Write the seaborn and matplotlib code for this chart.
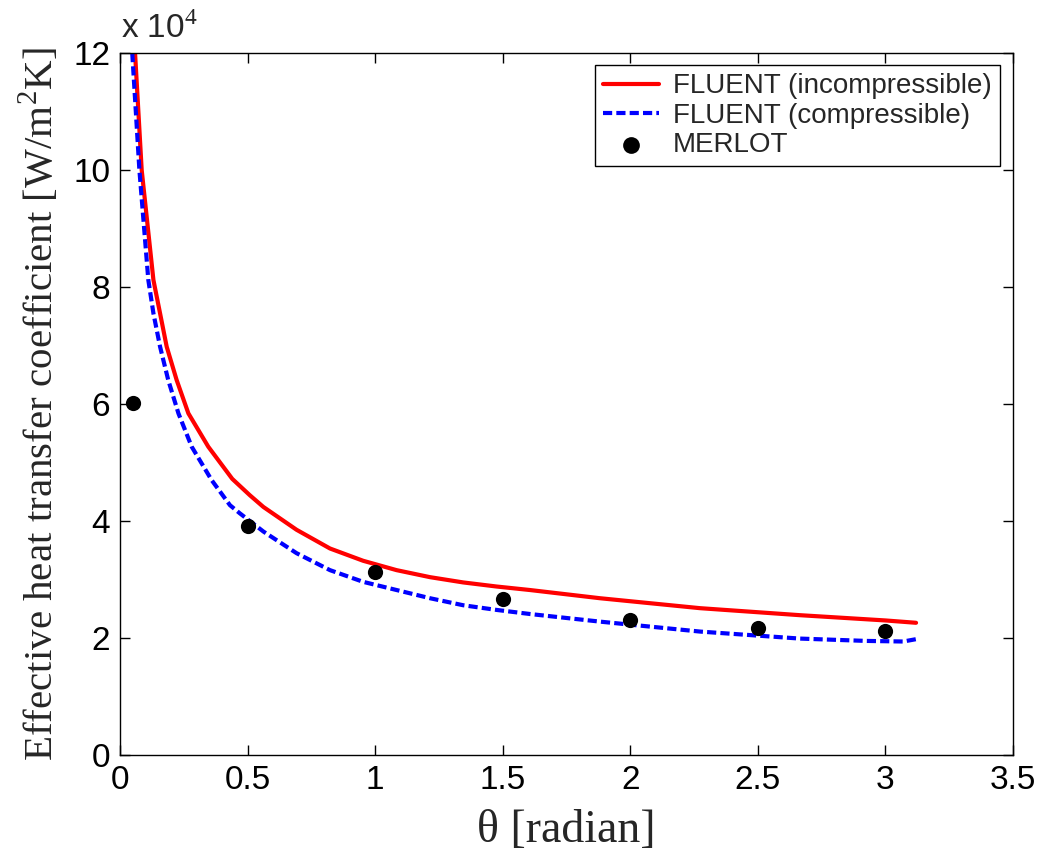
import matplotlib
matplotlib.use("Agg")
import matplotlib.pyplot as plt
import seaborn as sns
import pandas as pd

# Data (y in units of 1e4 W/m^2K)
inc_theta = [0.059, 0.085, 0.131, 0.157, 0.183, 0.222, 0.268, 0.346, 0.44, 0.509,
             0.562, 0.692, 0.823, 0.953, 1.084, 1.215, 1.345, 1.476, 1.607, 1.881,
             2.273, 2.665, 3.0, 3.12]
inc_h = [12.0, 10.0, 8.12, 7.55, 6.98, 6.41, 5.84, 5.27, 4.72, 4.44,
         4.24, 3.85, 3.53, 3.32, 3.16, 3.04, 2.95, 2.88, 2.82, 2.68,
         2.51, 2.39, 2.3, 2.26]

comp_theta = [0.048, 0.076, 0.111, 0.131, 0.157, 0.189, 0.229, 0.281, 0.359, 0.431,
              0.47, 0.562, 0.692, 0.823, 0.953, 1.084, 1.215, 1.345, 1.476, 1.607,
              1.881, 2.273, 2.665, 2.926, 3.07, 3.12]
comp_h = [12.0, 10.0, 8.12, 7.55, 6.98, 6.41, 5.84, 5.27, 4.70, 4.27,
          4.13, 3.82, 3.45, 3.16, 2.96, 2.82, 2.68, 2.56, 2.48, 2.41,
          2.28, 2.11, 1.99, 1.95, 1.94, 1.98]

merlot_theta = [0.05, 0.5, 1.0, 1.5, 2.0, 2.5, 3.0]
merlot_h = [6.02, 3.91, 3.12, 2.66, 2.31, 2.17, 2.12]

x_ticks = [0, 0.5, 1, 1.5, 2, 2.5, 3, 3.5]
x_tick_labels = ["0", "0.5", "1", "1.5", "2", "2.5", "3", "3.5"]
y_ticks = [0, 2, 4, 6, 8, 10, 12]

sns.set_theme(style="white")
plt.rcParams['font.family'] = ['Liberation Sans', 'DejaVu Sans']
plt.rcParams['mathtext.fontset'] = 'custom'
plt.rcParams['mathtext.rm'] = 'Liberation Serif'

fig = plt.figure(figsize=(10.4, 8.56), dpi=100)
ax = fig.add_axes([120/1040, 1 - 755/856, (1013 - 120)/1040, (755 - 53)/856])

df_inc = pd.DataFrame({"theta": inc_theta, "h": inc_h})
df_comp = pd.DataFrame({"theta": comp_theta, "h": comp_h})
df_mer = pd.DataFrame({"theta": merlot_theta, "h": merlot_h})

sns.lineplot(data=df_inc, x="theta", y="h", ax=ax, color="#ff0000", lw=3,
             sort=False, label="FLUENT (incompressible)")
sns.lineplot(data=df_comp, x="theta", y="h", ax=ax, color="#0000ff", lw=3,
             sort=False, label="FLUENT (compressible)")
ax.lines[-1].set_linestyle((0, (2.2, 1.0)))
sns.scatterplot(data=df_mer, x="theta", y="h", ax=ax, color="black", s=120,
                edgecolor="black", linewidth=0, label="MERLOT", zorder=5)

ax.set_xlim(0, 3.5)
ax.set_ylim(0, 12)
ax.set_xticks(x_ticks)
ax.set_xticklabels(x_tick_labels)
ax.set_yticks(y_ticks)
ax.set_yticklabels([str(v) for v in y_ticks])
ax.tick_params(direction="in", length=7, width=1, labelsize=24, top=True, right=True,
               bottom=True, left=True, pad=7, colors="black")
for sp in ax.spines.values():
    sp.set_color("black")
    sp.set_linewidth(1.0)

ax.set_xlabel(r"θ [radian]", fontfamily="Liberation Serif", fontsize=33, labelpad=10)
ax.set_ylabel(r"Effective heat transfer coefficient [W/m$^2$K]",
              fontfamily="Liberation Serif", fontsize=29.5, labelpad=8)

fig.text(121/1040, 1 - 45/856, r"x 10$^{4}$", fontsize=24, ha="left", va="bottom",
         fontfamily="Liberation Sans")

leg = ax.legend(loc="upper right", bbox_to_anchor=(1000/1040, 1 - 65/856),
                bbox_transform=fig.transFigure, fontsize=20, frameon=True,
                fancybox=False, framealpha=1, edgecolor="black", handlelength=2.0,
                handletextpad=0.5, borderpad=0.3, labelspacing=0.12, borderaxespad=0,
                markerscale=1.1)
leg.get_frame().set_linewidth(1.0)

fig.savefig("out.png", dpi=100, facecolor="white")
